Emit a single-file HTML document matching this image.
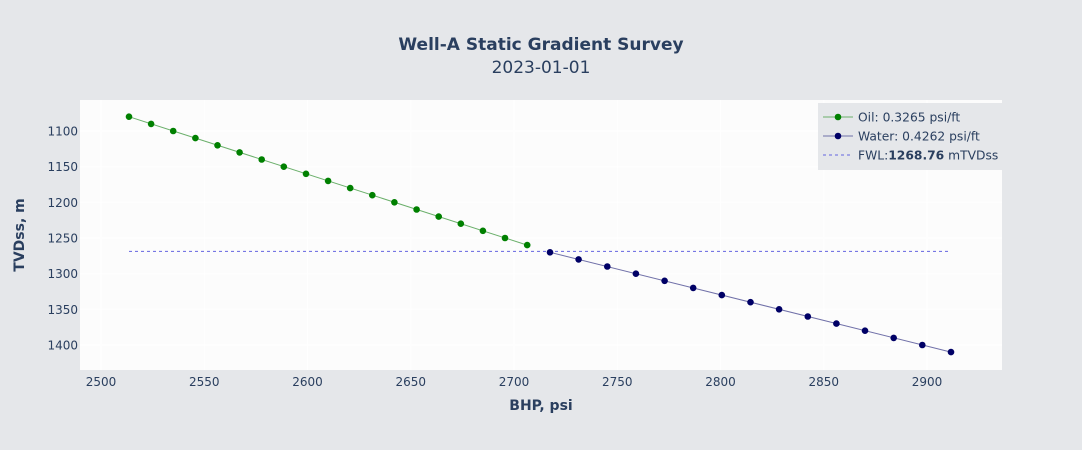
<!DOCTYPE html>
<html><head><meta charset="utf-8"><style>body{margin:0;background:#e5e7ea}svg{display:block}text{font-family:"DejaVu Sans","Liberation Sans",sans-serif;fill:#2a3f5f}</style></head><body>
<svg width="1082" height="450" viewBox="0 0 1082 450">
<rect width="1082" height="450" fill="#e5e7ea"/>
<rect x="80" y="100" width="922" height="270" fill="#fcfcfc"/>
<g stroke="#ffffff" stroke-width="1">
<line x1="101" y1="100" x2="101" y2="370"/><line x1="204.3" y1="100" x2="204.3" y2="370"/><line x1="307.5" y1="100" x2="307.5" y2="370"/><line x1="410.8" y1="100" x2="410.8" y2="370"/><line x1="514" y1="100" x2="514" y2="370"/><line x1="617.3" y1="100" x2="617.3" y2="370"/><line x1="720.5" y1="100" x2="720.5" y2="370"/><line x1="823.8" y1="100" x2="823.8" y2="370"/><line x1="927" y1="100" x2="927" y2="370"/>
<line x1="80" y1="131" x2="1002" y2="131"/><line x1="80" y1="166.7" x2="1002" y2="166.7"/><line x1="80" y1="202.3" x2="1002" y2="202.3"/><line x1="80" y1="238" x2="1002" y2="238"/><line x1="80" y1="273.7" x2="1002" y2="273.7"/><line x1="80" y1="309.3" x2="1002" y2="309.3"/><line x1="80" y1="345" x2="1002" y2="345"/>
</g>
<text x="541" y="50" text-anchor="middle" font-size="17" font-weight="bold">Well-A Static Gradient Survey</text>
<text x="541" y="73" text-anchor="middle" font-size="17">2023-01-01</text>
<g font-size="12" text-anchor="middle">
<text x="101" y="386">2500</text><text x="204.3" y="386">2550</text><text x="307.5" y="386">2600</text><text x="410.8" y="386">2650</text><text x="514" y="386">2700</text><text x="617.3" y="386">2750</text><text x="720.5" y="386">2800</text><text x="823.8" y="386">2850</text><text x="927" y="386">2900</text>
</g>
<g font-size="12" text-anchor="end">
<text x="78" y="135.5">1100</text><text x="78" y="171.2">1150</text><text x="78" y="206.8">1200</text><text x="78" y="242.5">1250</text><text x="78" y="278.2">1300</text><text x="78" y="313.8">1350</text><text x="78" y="349.5">1400</text>
</g>
<text x="541" y="410" text-anchor="middle" font-size="14" font-weight="bold">BHP, psi</text>
<text transform="translate(24,235) rotate(-90)" text-anchor="middle" font-size="14" font-weight="bold">TVDss, m</text>
<line x1="129" y1="251.4" x2="951" y2="251.4" stroke="#6464e0" stroke-width="1" stroke-dasharray="3,3"/>
<polyline points="129,116.7 527.2,245.1" stroke="#6aaf6a" stroke-width="1" fill="none"/>
<polyline points="550,252.3 951,352.1" stroke="#7070a8" stroke-width="1" fill="none"/>
<g fill="#008000">
<circle cx="129" cy="116.7" r="3.3"/><circle cx="151.1" cy="123.9" r="3.3"/><circle cx="173.2" cy="131" r="3.3"/><circle cx="195.4" cy="138.1" r="3.3"/><circle cx="217.5" cy="145.3" r="3.3"/><circle cx="239.6" cy="152.4" r="3.3"/><circle cx="261.7" cy="159.5" r="3.3"/><circle cx="283.8" cy="166.7" r="3.3"/><circle cx="306" cy="173.8" r="3.3"/><circle cx="328.1" cy="180.9" r="3.3"/><circle cx="350.2" cy="188.1" r="3.3"/><circle cx="372.3" cy="195.2" r="3.3"/><circle cx="394.4" cy="202.3" r="3.3"/><circle cx="416.6" cy="209.5" r="3.3"/><circle cx="438.7" cy="216.6" r="3.3"/><circle cx="460.8" cy="223.7" r="3.3"/><circle cx="482.9" cy="230.8" r="3.3"/><circle cx="505" cy="238" r="3.3"/><circle cx="527.2" cy="245.1" r="3.3"/>
</g>
<g fill="#000066">
<circle cx="550" cy="252.3" r="3.3"/><circle cx="578.6" cy="259.4" r="3.3"/><circle cx="607.3" cy="266.5" r="3.3"/><circle cx="635.9" cy="273.7" r="3.3"/><circle cx="664.6" cy="280.8" r="3.3"/><circle cx="693.2" cy="287.9" r="3.3"/><circle cx="721.8" cy="295.1" r="3.3"/><circle cx="750.5" cy="302.2" r="3.3"/><circle cx="779.1" cy="309.3" r="3.3"/><circle cx="807.8" cy="316.5" r="3.3"/><circle cx="836.4" cy="323.6" r="3.3"/><circle cx="865" cy="330.7" r="3.3"/><circle cx="893.7" cy="337.9" r="3.3"/><circle cx="922.3" cy="345" r="3.3"/><circle cx="951" cy="352.1" r="3.3"/>
</g>
<rect x="818" y="103" width="184" height="67" fill="#e5e7ea"/>
<line x1="823" y1="117" x2="853" y2="117" stroke="#6aaf6a"/><circle cx="838" cy="117" r="3.3" fill="#008000"/>
<text x="858" y="121.5" font-size="12.3">Oil: 0.3265 psi/ft</text>
<line x1="823" y1="136" x2="853" y2="136" stroke="#7070a8"/><circle cx="838" cy="136" r="3.3" fill="#000066"/>
<text x="858" y="140.5" font-size="12.3">Water: 0.4262 psi/ft</text>
<line x1="823" y1="155" x2="853" y2="155" stroke="#6464e0" stroke-dasharray="3,3"/>
<text x="858" y="159.5" font-size="12.3">FWL:<tspan font-weight="bold">1268.76</tspan> mTVDss</text>
</svg>
</body></html>
